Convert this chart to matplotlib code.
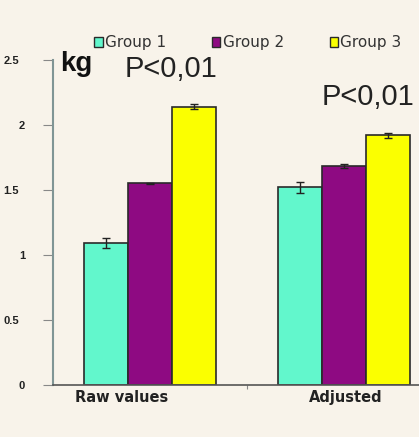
import numpy as np
import matplotlib
matplotlib.use("Agg")
import matplotlib.pyplot as plt
import matplotlib.transforms as mtransforms
from matplotlib.patches import Patch

# Datos
categories = ["Raw values", "Adjusted"]
groups = ["Group 1", "Group 2", "Group 3"]
group1 = [1.09, 1.52]
group2 = [1.55, 1.685]
group3 = [2.14, 1.92]
err1 = [0.04, 0.04]
err2 = [0.005, 0.012]
err3 = [0.02, 0.02]
yticks = [0, 0.5, 1, 1.5, 2, 2.5]
ytick_labels = ["0", "0.5", "1", "1.5", "2", "2.5"]
label_x = [-0.144, 1.01]   # posición de las etiquetas de categoría

colors = ["#62f7cc", "#8e0a82", "#fbff00"]
bg = "#f8f3ea"

fig = plt.figure(figsize=(4.19, 4.37), dpi=100, facecolor=bg)
ax = fig.add_axes([0.1265, 0.119, 0.926, 0.7437], facecolor=bg)

x = np.arange(len(categories))
w = 0.227
series = [group1, group2, group3]
errs = [err1, err2, err3]
for i, (vals, e) in enumerate(zip(series, errs)):
    ax.bar(x + (i - 1) * w, vals, width=w, color=colors[i],
           edgecolor="#2a2a2a", linewidth=1.2, zorder=2,
           yerr=e, capsize=3, error_kw=dict(ecolor="#222222", elinewidth=1, capthick=1))

ax.set_xlim(-0.5, 1.5)
ax.set_ylim(0, 2.5)
ax.set_yticks(yticks)
ax.set_yticklabels(ytick_labels, fontsize=8, fontweight="bold", color="#222222",
                   family="Liberation Sans")
ax.set_xticks([0.5])
ax.set_xticklabels([""])
ax.tick_params(axis="x", length=3, direction="out", color="#888888")
ax.tick_params(axis="y", length=7, direction="out", color="#888888", pad=13)

# las etiquetas decimales quedan algo más a la izquierda en el original
shift = mtransforms.ScaledTranslation(-6 / 100, 0, fig.dpi_scale_trans)
for lbl in ax.get_yticklabels():
    if "." in lbl.get_text():
        lbl.set_transform(lbl.get_transform() + shift)

for i, c in enumerate(categories):
    ax.text(label_x[i], -0.13, c, ha="center", va="baseline", fontsize=10.5,
            fontweight="bold", color="#222222")

for s in ["top", "right"]:
    ax.spines[s].set_visible(False)
ax.spines["left"].set_color("#809595")
ax.spines["left"].set_linewidth(1.5)
ax.spines["bottom"].set_color("#555555")
ax.spines["bottom"].set_linewidth(1.2)

# Leyenda en la parte superior
handles = [Patch(facecolor=colors[i], edgecolor="#2a2a2a", label=groups[i]) for i in range(3)]
fig.legend(handles=handles, loc="center", bbox_to_anchor=(0.592, 0.902), ncol=3,
           frameon=False, fontsize=11, handlelength=0.55, handleheight=0.55,
           handletextpad=0.15, columnspacing=3.0, labelcolor="#333333")

fig.text(60 / 419, 1 - 71 / 437, "kg", fontsize=20, fontweight="bold", va="baseline",
         ha="left", family="Liberation Sans", color="#111111")
fig.text(171 / 419, 1 - 77 / 437, "P<0,01", fontsize=21, va="baseline", ha="center",
         family="Liberation Sans", color="#222222")
fig.text(368 / 419, 1 - 105 / 437, "P<0,01", fontsize=21, va="baseline", ha="center",
         family="Liberation Sans", color="#222222")

fig.savefig("out.png", dpi=100, facecolor=bg)
